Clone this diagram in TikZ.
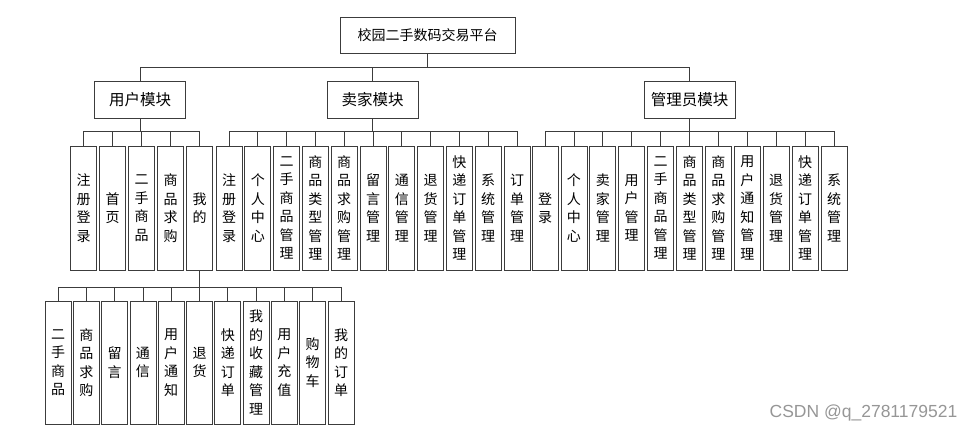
\documentclass[tikz,border=0pt]{standalone}
\usepackage{fontspec}
\setmainfont{Noto Sans CJK SC}
\newfontfamily\markfont{Liberation Sans}
\usepackage{tikz}
\usetikzlibrary{positioning,calc}
\definecolor{boxgray}{RGB}{60,60,60}
\definecolor{markgray}{RGB}{150,150,150}

\tikzset{
  box/.style={draw=boxgray,line width=0.8pt,inner sep=0pt,font=\fontsize{14}{18.5}\selectfont},
  modbox/.style={box,minimum width=91pt,minimum height=37pt,font=\fontsize{15.5}{18.5}\selectfont},
  leaf/.style={box,minimum width=26pt,minimum height=124pt,align=center},
  link/.style={draw=boxgray,line width=0.8pt}
}

\begin{document}
\begin{tikzpicture}[x=1pt,y=-1pt]
  \useasboundingbox (0,0) rectangle (975,431);

  % top and modules
  \node[box,minimum width=175pt,minimum height=36pt] (root) at (427.5,35) {校园二手数码交易平台};
  \node[modbox] (user) at (140,99.5) {用户模块};
  \node[modbox] (seller) at (372.5,99.5) {卖家模块};
  \node[modbox] (admin) at (689.5,99.5) {管理员模块};
  \foreach \m in {user,seller,admin}
    \draw[link] (root.south) -- ++(0,14) -| (\m.north);

  % user module
  \foreach \t [count=\i] in {注\\册\\登\\录,首\\页,二\\手\\商\\品,商\\品\\求\\购,我\\的} {
    \node[leaf] (u\i) at ({83.5+29*(\i-1)},208) {\t};
    \draw[link] (user.south) -- ++(0,13) -| (u\i.north);
  }

  % seller module
  \foreach \t [count=\i] in {注\\册\\登\\录,个\\人\\中\\心,二\\手\\商\\品\\管\\理,商\\品\\类\\型\\管\\理,
      商\\品\\求\\购\\管\\理,留\\言\\管\\理,通\\信\\管\\理,退\\货\\管\\理,快\\递\\订\\单\\管\\理,
      系\\统\\管\\理,订\\单\\管\\理} {
    \node[leaf] (s\i) at ({229+28.8*(\i-1)},208) {\t};
    \draw[link] (seller.south) -- ++(0,13) -| (s\i.north);
  }

  % admin module
  \foreach \t [count=\i] in {登\\录,个\\人\\中\\心,卖\\家\\管\\理,用\\户\\管\\理,二\\手\\商\\品\\管\\理,
      商\\品\\类\\型\\管\\理,商\\品\\求\\购\\管\\理,用\\户\\通\\知\\管\\理,退\\货\\管\\理,
      快\\递\\订\\单\\管\\理,系\\统\\管\\理} {
    \node[leaf] (a\i) at ({545+28.9*(\i-1)},208) {\t};
    \draw[link] (admin.south) -- ++(0,13) -| (a\i.north);
  }

  % under "mine"
  \foreach \t [count=\i] in {二\\手\\商\\品,商\\品\\求\\购,留\\言,通\\信,用\\户\\通\\知,退\\货,
      快\\递\\订\\单,我\\的\\收\\藏\\管\\理,用\\户\\充\\值,购\\物\\车,我\\的\\订\\单} {
    \node[leaf,minimum height=123pt] (m\i) at ({58+28.3*(\i-1)},362.5) {\t};
    \draw[link] (u5.south) -- ++(0,17) -| (m\i.north);
  }

  \node[font=\markfont\fontsize{17.5}{20}\selectfont,color=markgray] (mark) at (863.5,413) {CSDN @q\_2781179521};
\end{tikzpicture}
\end{document}
